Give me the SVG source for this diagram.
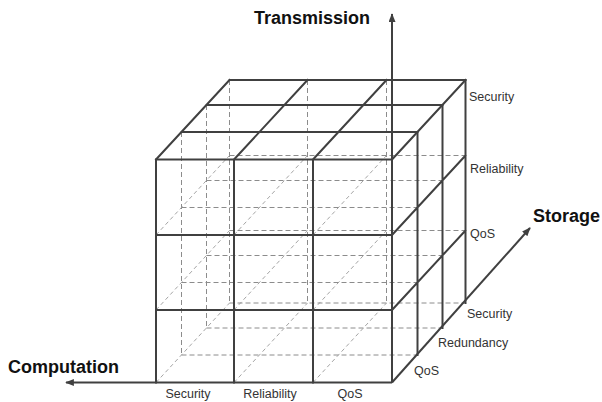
<svg xmlns="http://www.w3.org/2000/svg" width="602" height="402" viewBox="0 0 602 402">
<style>
.solid{stroke:#404040;stroke-width:2;fill:none;stroke-linecap:square}
.hid{stroke:#8c8c8c;stroke-width:1;fill:none;stroke-dasharray:5 3}
.hidd{stroke:#9a9a9a;stroke-width:0.9;fill:none;stroke-dasharray:4 3}
.axis{stroke:#404040;stroke-width:2;fill:none}
.big{font-family:"Liberation Sans",Arial,sans-serif;font-weight:bold;font-size:18px;fill:#111}
.lbl{font-family:"Liberation Sans",Arial,sans-serif;font-size:12.5px;fill:#333}
</style>
<defs>
<marker id="arr" viewBox="0 0 10 8" refX="9" refY="4" markerWidth="9" markerHeight="7" markerUnits="userSpaceOnUse" orient="auto">
<path d="M0,0 L10,4 L0,8 Z" fill="#404040"/>
</marker>
</defs>
<rect width="602" height="402" fill="#fff"/>
<g id="cube-hidden">
<path class="hid" d="M181.5,207.5H417.5M181.5,282.5H417.5M181.5,355H417.5M206.5,180.5H442.5M206.5,255.5H442.5M206.5,328H442.5M229.5,155.5H465.5M229.5,230.5H465.5M229.5,303H465.5M181.5,132V355M206.5,105V328M229.5,80V303M307.5,80V303M386.5,80V303"/>
<path class="hidd" d="M156,235L229.5,155.5M156,310L229.5,230.5M156,382.5L229.5,303M234,235L307.5,155.5M234,310L307.5,230.5M234,382.5L307.5,303M313,235L386.5,155.5M313,310L386.5,230.5M313,382.5L386.5,303"/>
</g>
<g id="cube-solid">
<path class="solid" d="M156,159.5V382.5M234,159.5V382.5M313,159.5V382.5M156,159.5H392M156,235H392M156,310H392"/>
<path class="solid" d="M181.5,132H417.5M206.5,105H442.5M229.5,80H465.5M156,159.5L229.5,80M234,159.5L307.5,80M313,159.5L386.5,80M392,159.5L465.5,80"/>
<path class="solid" d="M417.5,132V355M442.5,105V328M465.5,80V303M392,235L465.5,155.5M392,310L465.5,230.5"/>
</g>
<g id="connectors">
<line id="axis-transmission" class="axis" x1="392" y1="382.5" x2="392" y2="14" marker-end="url(#arr)"/>
<line id="axis-computation" class="axis" x1="392" y1="382.5" x2="66" y2="382.5" marker-end="url(#arr)"/>
<line id="axis-storage" class="axis" x1="392" y1="382.5" x2="530" y2="228" marker-end="url(#arr)"/>
</g>
<g id="label-transmission"><text class="big" x="312" y="24" text-anchor="middle">Transmission</text></g>
<g id="label-storage"><text class="big" x="533" y="222">Storage</text></g>
<g id="label-computation"><text class="big" x="8" y="373">Computation</text></g>
<g id="labels-transmission">
<text class="lbl" x="469" y="101">Security</text>
<text class="lbl" x="470" y="173">Reliability</text>
<text class="lbl" x="470" y="238">QoS</text>
</g>
<g id="labels-storage">
<text class="lbl" x="467" y="318">Security</text>
<text class="lbl" x="438" y="347">Redundancy</text>
<text class="lbl" x="414" y="375">QoS</text>
</g>
<g id="labels-computation">
<text class="lbl" x="188" y="398" text-anchor="middle">Security</text>
<text class="lbl" x="270" y="398" text-anchor="middle">Reliability</text>
<text class="lbl" x="350" y="398" text-anchor="middle">QoS</text>
</g>
</svg>
